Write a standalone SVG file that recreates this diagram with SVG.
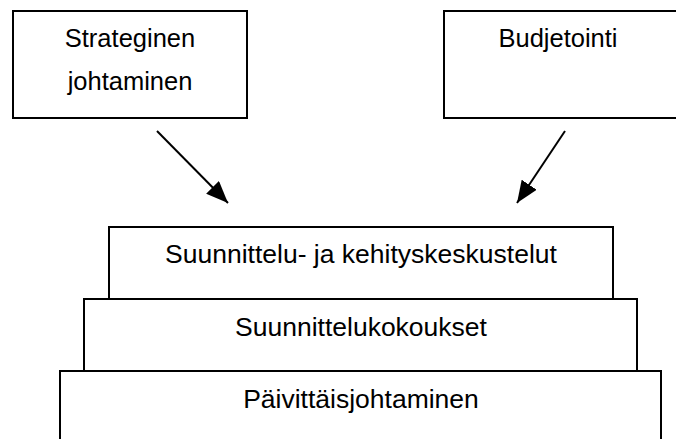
<svg xmlns="http://www.w3.org/2000/svg" width="676" height="439" viewBox="0 0 676 439">
  <style>
    .box { fill: #ffffff; stroke: #000000; stroke-width: 2; }
    .label { font-family: "Liberation Sans", Arial, sans-serif; font-size: 25.5px; fill: #000000; text-anchor: middle; }
    .label.big { font-size: 26.5px; }
    .link { fill: none; stroke: #000000; stroke-width: 2; }
  </style>
  <defs>
    <marker id="arrowhead" markerUnits="userSpaceOnUse" markerWidth="24" markerHeight="18" refX="22" refY="9" orient="auto">
      <path d="M0,0 L22,9 L0,18 Z" fill="#000000"/>
    </marker>
  </defs>
  <rect width="676" height="439" fill="#ffffff"/>

  <g id="strateginen-johtaminen">
    <rect class="box" x="13" y="11" width="234" height="107"/>
    <text class="label" x="130" y="47">Strateginen</text>
    <text class="label" x="130" y="90">johtaminen</text>
  </g>

  <g id="budjetointi">
    <rect class="box" x="444" y="11" width="250" height="107"/>
    <text class="label" x="558" y="47">Budjetointi</text>
  </g>

  <g id="paivittaisjohtaminen">
    <rect class="box" x="60" y="371" width="601" height="90"/>
    <text class="label big" x="361" y="408">Päivittäisjohtaminen</text>
  </g>

  <g id="suunnittelukokoukset">
    <rect class="box" x="84" y="299" width="553" height="72"/>
    <text class="label big" x="361" y="336">Suunnittelukokoukset</text>
  </g>

  <g id="suunnittelu-ja-kehityskeskustelut">
    <rect class="box" x="109" y="227" width="504" height="72"/>
    <text class="label big" x="361" y="263">Suunnittelu- ja kehityskeskustelut</text>
  </g>

  <g id="connectors">
    <line class="link" x1="157" y1="131" x2="228" y2="203" marker-end="url(#arrowhead)"/>
    <line class="link" x1="565" y1="131" x2="517" y2="203" marker-end="url(#arrowhead)"/>
  </g>
</svg>
